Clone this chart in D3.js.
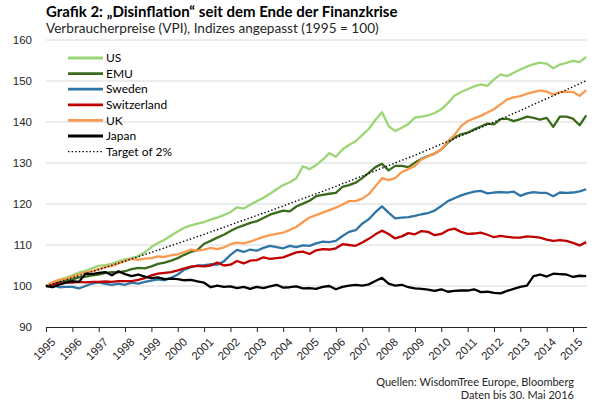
<!DOCTYPE html>
<html lang="de">

<head>
    <meta charset="utf-8" />
    <title>Grafik 2: Disinflation</title>
    <script src="https://d3js.org/d3.v7.min.js"></script>
    <style>
        body {
            margin: 0;
            background: #fff;
        }

        svg {
            font-family: Lato, Carlito, Calibri, sans-serif;
            display: block;
        }

        .grid line {
            stroke: #d9d9d9;
            stroke-width: 1;
        }

        .axis text {
            fill: #262626;
            font-size: 11.5px;
        }

        .series {
            fill: none;
            stroke-width: 2.3;
            stroke-linejoin: round;
        }
    </style>
</head>

<body>
    <script>
        // quarterly time points, 1995.0 ... 2015.5
        const dates = d3.range(0, 83).map((i) => 1995 + i * 0.25);

        const us = [
            100, 100.9, 101.5, 102.0, 102.6, 103.3, 103.7, 104.3, 104.9, 105.1, 105.4, 106.0,
            106.5, 106.8, 107.3, 108.2, 109.5, 110.5, 111.3, 112.3, 113.3, 114.2, 114.8, 115.2,
            115.6, 116.2, 116.7, 117.3, 118.0, 119.2, 118.9, 119.8, 120.7, 121.5, 122.5, 123.6,
            124.6, 125.3, 126.3, 129.2, 128.5, 129.5, 130.8, 132.4, 131.5, 133.3, 134.4, 135.3,
            136.8, 138.3, 140.5, 142.4, 139.0, 137.8, 138.6, 139.5, 141.1, 141.3, 141.6, 142.2,
            143.1, 144.6, 146.4, 147.3, 148.0, 148.7, 149.2, 148.8, 150.4, 151.6, 151.2, 152.0,
            152.8, 153.5, 154.1, 154.5, 154.2, 153.1, 154.0, 154.4, 154.9, 154.6, 155.9
        ];
        const emu = [
            100, 100.6, 101.0, 101.2, 101.6, 102.1, 102.3, 102.6, 102.8, 103.2, 103.4, 103.3,
            103.6, 104.1, 104.4, 104.3, 104.8, 105.4, 105.7, 106.2, 106.8, 107.6, 108.3, 108.8,
            110.3, 111.0, 111.8, 112.5, 113.4, 114.2, 114.8, 115.4, 115.8, 116.6, 117.4, 117.9,
            118.4, 118.2, 119.4, 120.1, 120.8, 121.9, 122.2, 122.5, 122.7, 124.2, 124.6, 125.2,
            126.3, 127.6, 129.0, 129.8, 128.2, 129.3, 129.3, 129.0, 130.1, 131.0, 131.7, 132.3,
            133.3, 135.0, 136.2, 137.0, 137.4, 138.2, 138.9, 139.6, 139.4, 140.7, 140.8, 140.2,
            140.7, 141.3, 141.0, 140.6, 141.0, 138.8, 141.3, 141.3, 140.8, 139.2, 141.6
        ];
        const sweden = [
            100, 100.2, 99.7, 99.8, 99.8, 99.4, 100.0, 100.6, 100.9, 100.5, 100.3, 100.6,
            100.3, 100.8, 100.6, 101.0, 101.3, 101.6, 101.4, 102.0, 102.8, 104.0, 104.6, 105.0,
            105.1, 105.3, 105.2, 106.0, 107.6, 108.8, 108.3, 108.9, 108.6, 109.3, 109.8, 109.5,
            109.2, 109.8, 109.5, 109.9, 109.8, 110.4, 110.8, 110.7, 111.0, 112.2, 113.2, 113.6,
            115.2, 116.3, 118.0, 119.4, 117.9, 116.5, 116.7, 116.8, 117.1, 117.5, 117.8, 118.4,
            119.5, 120.7, 121.4, 122.1, 122.6, 123.0, 123.2, 122.6, 122.8, 122.9, 122.8, 123.0,
            122.0, 122.6, 122.9, 122.7, 122.7, 121.9, 122.8, 122.7, 122.8, 123.1, 123.6
        ];
        const switzerland = [
            100, 100.4, 100.6, 100.8, 100.8, 101.0, 100.9, 101.0, 101.0, 101.1, 101.0, 101.2,
            101.2, 101.2, 101.5, 101.9, 102.6, 103.0, 103.2, 103.4, 103.8, 104.3, 104.7, 104.9,
            104.8, 105.0, 105.7, 105.0, 105.2, 106.1, 105.5, 106.2, 106.3, 107.0, 106.6, 106.8,
            107.0, 107.6, 108.2, 108.4, 107.8, 108.7, 109.0, 108.9, 109.2, 110.2, 110.0, 109.8,
            110.6, 111.5, 112.6, 113.5, 112.7, 111.6, 112.1, 112.9, 112.6, 113.4, 113.2, 112.4,
            112.7, 113.6, 114.0, 113.2, 112.7, 112.8, 113.0, 112.5, 111.9, 112.2, 112.0, 111.8,
            111.8, 112.1, 112.0, 111.8, 111.3, 111.0, 111.2, 111.0, 110.5, 109.9, 110.7
        ];
        const uk = [
            100, 100.9, 101.5, 101.7, 102.3, 102.8, 103.3, 103.6, 104.1, 104.6, 104.9, 105.5,
            106.1, 106.6, 106.4, 106.7, 106.8, 107.2, 107.1, 107.5, 107.7, 108.3, 108.9, 108.6,
            108.9, 109.3, 109.0, 109.4, 110.2, 110.6, 110.4, 110.8, 111.4, 112.0, 112.4, 112.7,
            113.0, 113.7, 114.4, 115.6, 116.7, 117.3, 117.9, 118.5, 119.1, 119.9, 120.7, 120.7,
            121.3, 122.4, 124.3, 126.3, 125.8, 126.3, 127.8, 128.5, 129.3, 130.9, 131.6, 132.3,
            133.3, 135.3, 136.8, 139.0, 140.2, 140.9, 141.5, 142.3, 143.1, 144.3, 145.5, 146.0,
            146.3, 146.9, 147.3, 147.7, 147.4, 146.7, 147.3, 147.4, 147.3, 146.4, 147.8
        ];
        const japan = [
            100, 99.7, 100.3, 100.8, 101.2, 101.0, 103.0, 102.9, 103.2, 103.4, 102.6, 103.6,
            102.9, 102.4, 102.8, 102.3, 101.9, 102.1, 101.7, 101.8, 101.7, 101.4, 101.5, 101.1,
            100.8, 99.7, 100.1, 99.8, 99.9, 99.5, 99.8, 99.3, 99.8, 99.5, 99.9, 100.3,
            99.6, 99.7, 99.9, 99.4, 99.5, 99.3, 99.8, 100.0, 99.2, 99.8, 100.1, 100.3,
            100.1, 100.4, 101.2, 102.0, 100.6, 100.1, 100.3, 99.7, 99.4, 99.3, 99.1, 98.8,
            99.2, 98.6, 98.8, 98.9, 98.9, 99.2, 98.5, 98.6, 98.3, 98.2, 98.8, 99.3,
            99.8, 100.1, 102.4, 102.8, 102.3, 103.0, 102.9, 102.8, 102.2, 102.5, 102.4
        ];

        // 2% target path, yearly
        const targetDates = [1995, 1996, 1997, 1998, 1999, 2000, 2001, 2002, 2003, 2004, 2005,
            2006, 2007, 2008, 2009, 2010, 2011, 2012, 2013, 2014, 2015, 2015.5];
        const target = [100, 102.0, 104.0, 106.1, 108.2, 110.4, 112.6, 114.9, 117.2, 119.5, 121.9,
            124.3, 126.8, 129.4, 131.9, 134.6, 137.3, 140.0, 142.8, 145.7, 148.6, 150.1];

        const seriesNames = ["US", "EMU", "Sweden", "Switzerland", "UK", "Japan"];
        const seriesValues = [us, emu, sweden, switzerland, uk, japan];
        const seriesColors = ["#9bd575", "#3a6a1c", "#2e74a6", "#c00000", "#fb9a4e", "#000000"];

        const yTicks = [90, 100, 110, 120, 130, 140, 150, 160];
        const xTicks = d3.range(1995, 2016);

        const W = 596, H = 406;
        const svg = d3.select("body").append("svg").attr("width", W).attr("height", H);

        const x = d3.scaleLinear().domain([1995, 2015.53]).range([46, 587]);
        const y = d3.scaleLinear().domain([90, 160]).range([327, 40]);

        // titles
        svg.append("text").attr("x", 46).attr("y", 17)
            .style("font-weight", "bold").style("font-size", "15px").attr("fill", "#000")
            .text("Grafik 2: \u201EDisinflation\u201C seit dem Ende der Finanzkrise");
        svg.append("text").attr("x", 46).attr("y", 33)
            .style("font-size", "13.6px").attr("fill", "#262626")
            .text("Verbraucherpreise (VPI), Indizes angepasst (1995 = 100)");

        // gridlines
        svg.append("g").attr("class", "grid")
            .selectAll("line")
            .data(yTicks.filter((d) => d > 90))
            .join("line")
            .attr("x1", 46).attr("x2", 587)
            .attr("y1", (d) => y(d)).attr("y2", (d) => y(d));

        // y axis (labels only)
        const g_yaxis = svg.append("g").attr("class", "axis")
            .attr("transform", "translate(46,0)")
            .call(d3.axisLeft(y).tickValues(yTicks).tickSize(0).tickPadding(14));
        g_yaxis.select(".domain").remove();

        // x axis
        const g_xaxis = svg.append("g").attr("class", "axis")
            .attr("transform", `translate(0,${y(90)})`)
            .call(d3.axisBottom(x).tickValues(xTicks).tickFormat(d3.format("d")).tickSizeOuter(0).tickSize(5));
        g_xaxis.selectAll("line, path").attr("stroke", "#262626");
        g_xaxis.select(".domain").attr("d", `M46,0.5H587`);
        g_xaxis.selectAll("text")
            .attr("text-anchor", "end")
            .attr("dy", null)
            .attr("transform", "translate(4,10) rotate(-45)");

        // series lines
        const line = d3.line()
            .x((d) => x(d[0]))
            .y((d) => y(d[1]));

        svg.append("g")
            .selectAll("path")
            .data(seriesValues)
            .join("path")
            .attr("class", "series")
            .attr("stroke", (d, i) => seriesColors[i])
            .attr("d", (vals) => line(vals.map((v, i) => [dates[i], v])));

        svg.append("path")
            .attr("fill", "none")
            .attr("stroke", "#000")
            .attr("stroke-width", 1.4)
            .attr("stroke-dasharray", "1.4,2.2")
            .attr("d", line(target.map((v, i) => [targetDates[i], v])));

        // legend
        const legendItems = seriesNames.map((n, i) => ({ name: n, color: seriesColors[i], dash: null }))
            .concat([{ name: "Target of 2%", color: "#000", dash: "1.4,2.2" }]);
        const legend = svg.append("g").attr("transform", "translate(68,58)");
        const item = legend.selectAll("g")
            .data(legendItems)
            .join("g")
            .attr("transform", (d, i) => `translate(0,${i * 15.6})`);
        item.append("line")
            .attr("x1", 0).attr("x2", 35)
            .attr("stroke", (d) => d.color)
            .attr("stroke-width", (d) => (d.dash ? 1.4 : 2.8))
            .attr("stroke-dasharray", (d) => d.dash);
        item.append("text")
            .attr("x", 38).attr("dy", "0.35em")
            .style("font-size", "12px").attr("fill", "#000")
            .text((d) => d.name);

        // sources
        const foot = svg.append("g").style("font-size", "11px").attr("fill", "#262626");
        foot.append("text").attr("x", 574).attr("y", 386).attr("text-anchor", "end")
            .text("Quellen: WisdomTree Europe, Bloomberg");
        foot.append("text").attr("x", 574).attr("y", 399).attr("text-anchor", "end")
            .text("Daten bis 30. Mai 2016");
    </script>
</body>

</html>
